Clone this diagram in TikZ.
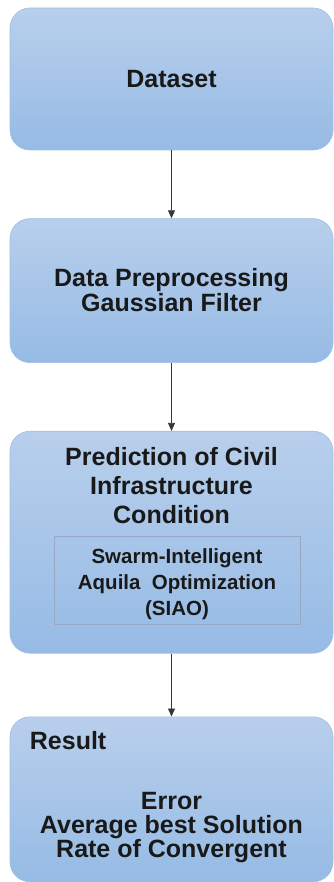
\documentclass[tikz,border=0pt]{standalone}
\usepackage{fontspec}
\setmainfont{Liberation Sans}
\usetikzlibrary{arrows.meta, positioning}

\definecolor{boxtop}{RGB}{184,207,236}
\definecolor{boxbottom}{RGB}{150,187,229}
\definecolor{boxline}{RGB}{158,190,228}
\definecolor{innerline}{RGB}{150,168,196}
\definecolor{arrowgray}{RGB}{55,55,55}

\begin{document}
\begin{tikzpicture}[
    x=1pt, y=1pt,
    node distance=68pt,
    >={Triangle[width=7pt,length=8pt]},
    stage/.style={rectangle, rounded corners=20pt, draw=boxline, line width=0.6pt, top color=boxtop, bottom color=boxbottom, minimum width=323pt, inner sep=0pt},
    subbox/.style={rectangle, draw=innerline, line width=0.7pt, minimum width=246pt, minimum height=88pt, inner sep=0pt},
    stagetext/.style={font=\fontsize{25}{20}\selectfont\bfseries, align=center, inner sep=0pt, text=black!90},
    subtext/.style={font=\fontsize{20.5}{26}\selectfont\bfseries, align=center, inner sep=0pt, text=black!90},
    arrow/.style={->, line width=0.8pt, color=arrowgray},
]
\useasboundingbox (0,0) rectangle (334,-882);

% --- Stages ---
\node[stage, minimum height=142pt] (dataset) at (171.5,-79) {};
\node[stage, minimum height=144pt, below=68pt of dataset] (prep) {};
\node[stage, minimum height=222pt, below=68pt of prep] (pred) {};
\node[stage, minimum height=165pt, below=63pt of pred] (result) {};

% --- Optimizer inside prediction ---
\node[subbox, anchor=north] (siao) at ([xshift=5.5pt, yshift=-105pt]pred.north) {};

% --- Stage texts ---
\node[stagetext, anchor=base] (datasettxt) at ([yshift=-8.3pt]dataset.center) {Dataset};
\node[stagetext, anchor=north] (preptxt) at ([yshift=-50pt]prep.north) {Data Preprocessing\\Gaussian Filter};
\node[stagetext, anchor=north, font=\fontsize{25}{29}\selectfont\bfseries] (predtxt) at ([yshift=-16pt]pred.north) {Prediction of Civil\\Infrastructure\\Condition};
\node[subtext, anchor=north] (siaotxt) at ([yshift=-12.6pt]siao.north) {Swarm-Intelligent\\Aquila\ \ Optimization\\(SIAO)};
\node[stagetext, anchor=base west] (resulthead) at ([xshift=20pt, yshift=-33.3pt]result.north west) {Result};
\node[stagetext, anchor=north, font=\fontsize{25}{23.8}\selectfont\bfseries] (resulttxt) at ([yshift=-76pt]result.north) {Error\\Average best Solution\\Rate of Convergent};

% --- Arrows ---
\draw[arrow] (dataset) -- (prep);
\draw[arrow] (prep) -- (pred);
\draw[arrow] (pred) -- (result);

\end{tikzpicture}
\end{document}
